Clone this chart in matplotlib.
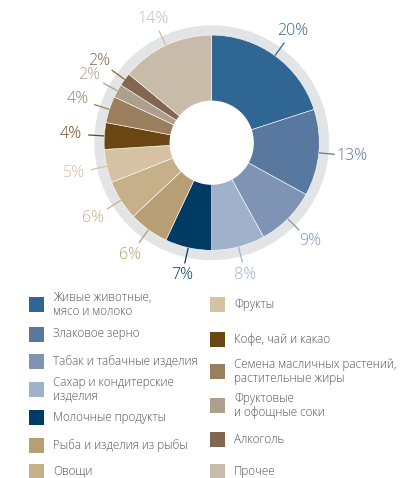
import matplotlib
matplotlib.use("Agg")
import matplotlib.pyplot as plt
import numpy as np
from matplotlib.patches import Circle, Rectangle

plt.rcParams['font.family'] = ['Open Sans', 'DejaVu Sans']

# данные
categories = ["Живые животные,\nмясо и молоко", "Злаковое зерно", "Табак и табачные изделия",
              "Сахар и кондитерские\nизделия", "Молочные продукты", "Рыба и изделия из рыбы",
              "Овощи", "Фрукты", "Кофе, чай и какао", "Семена масличных растений,\nрастительные жиры",
              "Фруктовые\nи офощные соки", "Алкоголь", "Прочее"]
values = [20, 13, 9, 8, 7, 6, 6, 5, 4, 4, 2, 2, 14]
colors = ["#2F6693", "#5878A0", "#7F94B5", "#A0B1CB", "#003B64", "#B89E74", "#C6B08A",
          "#D4C2A2", "#6A4612", "#9A7E5E", "#AE9E8C", "#836650", "#C9BBAA"]

W, H = 400, 478
fig = plt.figure(figsize=(W / 100, H / 100), dpi=100)

# круговая диаграмма
cx, cy, R = 211.7, 142.7, 107.6
top_h = 285
ax = fig.add_axes([0, (H - top_h) / H, 1, top_h / H])
ax.add_patch(Circle((0, 0), 1.085, color="#E3E4E6", zorder=0))
wedges, _ = ax.pie(values, colors=colors, startangle=90, counterclock=False, radius=1.0,
                   wedgeprops=dict(width=0.62, edgecolor="white", linewidth=0.4))
for w in wedges:
    w.set_zorder(2)
ax.add_patch(Circle((0, 0), 0.385, color="white", zorder=3))

cum = np.cumsum(values) - np.array(values) / 2
for v, c, m in zip(values, colors, cum):
    th = np.deg2rad(90 - 360 * m / sum(values))
    ct, st = np.cos(th), np.sin(th)
    ax.plot([1.0 * ct, 1.15 * ct], [1.0 * st, 1.15 * st], color=c, lw=0.9, zorder=3,
            solid_capstyle="butt")
    r = 1.25 + 0.06 * abs(ct)
    ax.text(r * ct, r * st, f"{v}%", color=c, fontsize=11.5, ha="center", va="center",
            fontweight="light")

ax.set_xlim(-cx / R, (W - cx) / R)
ax.set_ylim(-(top_h - cy) / R, cy / R)
ax.set_aspect("auto")
ax.axis("off")

# легенда
lg = fig.add_axes([0, 0, 1, 1])
lg.set_xlim(0, W)
lg.set_ylim(H, 0)
lg.axis("off")
left_rows = [304.5, 334, 361, 389.5, 417.5, 445.5, 471]
right_rows = [304.5, 339.5, 371.5, 405.5, 439, 471]
rows = [(29, y) for y in left_rows] + [(210, y) for y in right_rows]
for (x, y), lab, c in zip(rows, categories, colors):
    lg.add_patch(Rectangle((x, y - 7.5), 15, 15, color=c, lw=0))
    lg.text(x + 24, y, lab, fontsize=8.5, color="#555555", ha="left", va="center",
            linespacing=1.05, fontweight="light")

fig.savefig("out.png", dpi=100)
